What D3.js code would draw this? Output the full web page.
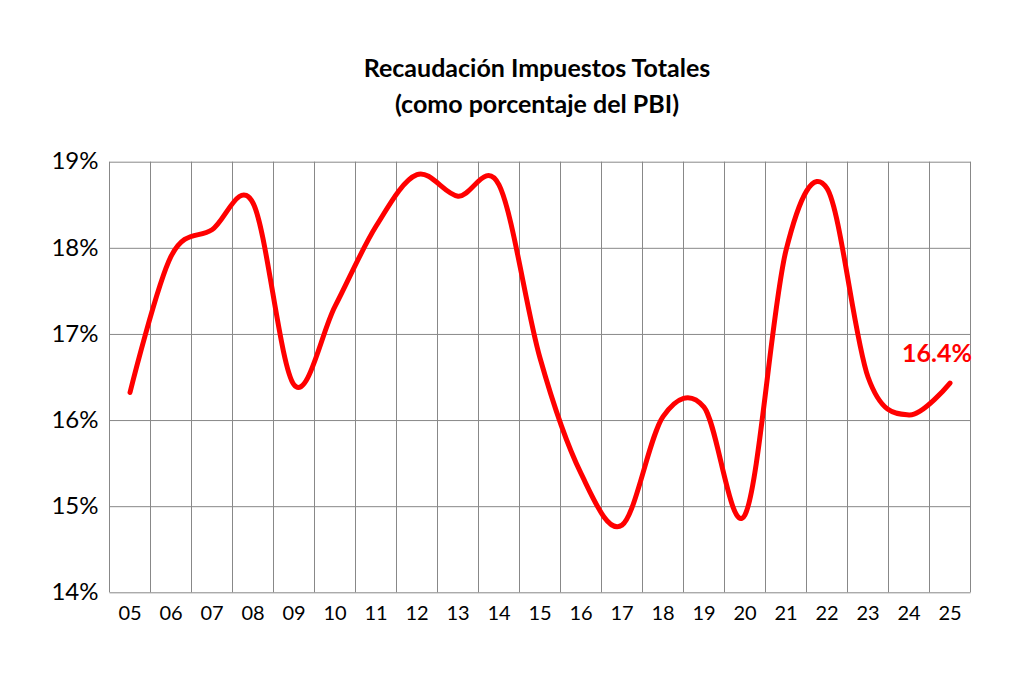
<!DOCTYPE html>
<html>
<head>
<meta charset="utf-8">
<script src="https://cdn.jsdelivr.net/npm/d3@7"></script>
<style>
  body { margin: 0; background: #fff; }
  svg text { font-family: Lato, "Open Sans", sans-serif; fill: #000; }
</style>
</head>
<body>
<div id="chart"></div>
<script>
var w = 1024;
var h = 678;

// data
var years = ["05","06","07","08","09","10","11","12","13","14","15","16","17","18","19","20","21","22","23","24","25"];
var recaudacion = [16.32, 17.90, 18.21, 18.52, 16.41, 17.32, 18.25, 18.85, 18.60, 18.73, 16.72, 15.38, 14.78, 16.04, 16.15, 14.90, 17.97, 18.69, 16.50, 16.06, 16.43];
var yTicks = [14, 15, 16, 17, 18, 19];
var titleLines = ["Recaudación Impuestos Totales", "(como porcentaje del PBI)"];
var lastLabel = "16.4%";

var plot = { left: 109.5, right: 970.5, top: 161.7, bottom: 592.3 };

var svg = d3.select("#chart")
            .append("svg")
            .attr("width", w)
            .attr("height", h);

//scales
var xScale = d3.scaleBand()
               .domain(years)
               .range([plot.left, plot.right]);

var yScale = d3.scaleLinear()
               .domain([14, 19])
               .range([plot.bottom, plot.top]);

// horizontal grid + y labels
var yAxis = d3.axisLeft(yScale)
              .tickValues(yTicks)
              .tickSize(-(plot.right - plot.left))
              .tickPadding(11)
              .tickFormat(function(d) { return d + "%"; });

var gy = svg.append("g")
    .attr("class", "y axis")
    .attr("transform", "translate(" + plot.left + ",0)")
    .call(yAxis);
gy.select(".domain").remove();
gy.selectAll("line").attr("stroke", "#888").attr("stroke-width", 1);
gy.selectAll("text").attr("font-size", 24).attr("dy", "0.3em");

// vertical grid lines at band edges
var edges = years.map(function(d) { return xScale(d); }).concat([xScale.range()[1]]);
svg.append("g")
   .selectAll("line")
   .data(edges)
   .enter()
   .append("line")
   .attr("x1", function(d) { return d; })
   .attr("x2", function(d) { return d; })
   .attr("y1", plot.top)
   .attr("y2", plot.bottom)
   .attr("stroke", "#888")
   .attr("stroke-width", 1);

// x labels
var xAxis = d3.axisBottom(xScale)
              .tickSize(0)
              .tickPadding(14);
var gx = svg.append("g")
    .attr("class", "x axis")
    .attr("transform", "translate(0," + plot.bottom + ")")
    .call(xAxis);
gx.select(".domain").remove();
gx.selectAll("text").attr("font-size", 20);

// line
var line = d3.line()
    .x(function(d, i) { return xScale(years[i]) + xScale.bandwidth() / 2; })
    .y(function(d) { return yScale(d); })
    .curve(d3.curveCardinal.tension(0));

svg.append("path")
   .datum(recaudacion)
   .attr("fill", "none")
   .attr("stroke", "#ff0000")
   .attr("stroke-width", 5)
   .attr("stroke-linecap", "round")
   .attr("d", line);

// last value label
var lastI = years.length - 1;
svg.append("text")
   .attr("x", xScale(years[lastI]) + xScale.bandwidth() / 2 - 13)
   .attr("y", yScale(recaudacion[lastI]) - 21)
   .attr("text-anchor", "middle")
   .attr("font-size", 25)
   .attr("font-weight", "bold")
   .style("fill", "#ff0000")
   .text(lastLabel);

// title
svg.append("g")
   .selectAll("text")
   .data(titleLines)
   .enter()
   .append("text")
   .attr("x", 537)
   .attr("y", function(d, i) { return 77 + i * 36; })
   .attr("text-anchor", "middle")
   .attr("font-size", 25)
   .attr("font-weight", "bold")
   .text(function(d) { return d; });
</script>
</body>
</html>
